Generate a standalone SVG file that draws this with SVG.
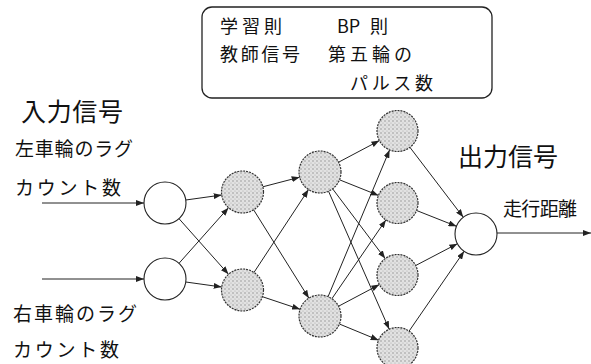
<svg xmlns="http://www.w3.org/2000/svg" width="591" height="364" viewBox="0 0 591 364">
<style>
.t{font-family:"Noto Sans CJK JP","Noto Sans",sans-serif;fill:#111}
.s{font-size:19px}
.m{font-size:18px}
.b{font-size:25px}
.plain{fill:#fff;stroke:#222;stroke-width:1.1}
.hid{fill:url(#dots);stroke:#333;stroke-width:1.2;stroke-dasharray:2 1}
.c line{stroke:#222;stroke-width:1}
.arr{marker-end:url(#ah)}
</style>
<defs>
<pattern id="dots" width="4" height="4" patternUnits="userSpaceOnUse">
<rect width="4" height="4" fill="#e2e2e2"/>
<circle cx="1" cy="1" r="0.7" fill="#888"/>
<circle cx="3" cy="3" r="0.6" fill="#aaa"/>
</pattern>
<marker id="ah" markerWidth="8" markerHeight="6" refX="8" refY="3" orient="auto" markerUnits="userSpaceOnUse">
<path d="M0,0 L8,3 L0,6 Z" fill="#222"/>
</marker>
</defs>
<rect width="591" height="364" fill="#fff"/>

<g id="rulebox">
<rect x="202" y="7" width="290" height="91" rx="10" fill="none" stroke="#222" stroke-width="1.3"/>
<text class="t m" x="220" y="33" textLength="62" lengthAdjust="spacing">学習則</text>
<text class="t m" x="337" y="33">BP</text>
<text class="t m" x="370" y="33">則</text>
<text class="t m" x="220" y="61" textLength="80" lengthAdjust="spacing">教師信号</text>
<text class="t m" x="328" y="61" textLength="84" lengthAdjust="spacing">第五輪の</text>
<text class="t m" x="350" y="90" textLength="83" lengthAdjust="spacing">パルス数</text>
</g>

<g id="labels">
<text class="t b" x="21" y="121" textLength="102" lengthAdjust="spacing">入力信号</text>
<text class="t s" x="15" y="156" textLength="118" lengthAdjust="spacing">左車輪のラグ</text>
<text class="t s" x="15" y="195" textLength="106" lengthAdjust="spacing">カウント数</text>
<text class="t s" x="13" y="321" textLength="124" lengthAdjust="spacing">右車輪のラグ</text>
<text class="t s" x="13" y="357" textLength="106" lengthAdjust="spacing">カウント数</text>
<text class="t b" x="458" y="166" textLength="100" lengthAdjust="spacing">出力信号</text>
<text class="t s" x="503" y="216" textLength="74" lengthAdjust="spacing">走行距離</text>
</g>

<g id="connectors" class="c">
<line class="arr" x1="42" y1="203" x2="144" y2="203"/>
<line class="arr" x1="42" y1="279" x2="144" y2="279"/>
<line class="arr" x1="185.8" y1="200" x2="221.7" y2="195"/>
<line class="arr" x1="179" y1="218.7" x2="228.5" y2="274.3"/>
<line class="arr" x1="179" y1="263.3" x2="228.5" y2="207.7"/>
<line class="arr" x1="185.8" y1="282" x2="221.7" y2="287"/>
<line class="arr" x1="262.8" y1="186.8" x2="299.7" y2="177.2"/>
<line class="arr" x1="253.6" y1="209.8" x2="308.9" y2="298.2"/>
<line class="arr" x1="254" y1="272.4" x2="308.5" y2="189.6"/>
<line class="arr" x1="262.4" y1="296.7" x2="300.1" y2="309.3"/>
<line class="arr" x1="338.6" y1="162.2" x2="379.4" y2="140.6"/>
<line class="arr" x1="339.5" y1="179.8" x2="378.5" y2="195.4"/>
<line class="arr" x1="332.6" y1="188.8" x2="385.2" y2="258.6"/>
<line class="arr" x1="328.5" y1="191.2" x2="389.2" y2="329.2"/>
<line class="arr" x1="328.1" y1="296.6" x2="389.6" y2="149.9"/>
<line class="arr" x1="331.9" y1="298.7" x2="385.9" y2="219.9"/>
<line class="arr" x1="338.6" y1="306.2" x2="379.4" y2="284.6"/>
<line class="arr" x1="339.4" y1="324" x2="378.6" y2="340.2"/>
<line class="arr" x1="409.9" y1="147.3" x2="463.3" y2="217.3"/>
<line class="arr" x1="416.6" y1="210.5" x2="456.5" y2="226.3"/>
<line class="arr" x1="415.7" y1="265.5" x2="457.4" y2="243.7"/>
<line class="arr" x1="409.1" y1="331.1" x2="464.1" y2="251.3"/>
<line class="arr" x1="497" y1="233" x2="591" y2="233"/>
</g>

<g id="in1"><circle class="plain" cx="165" cy="203" r="21"/></g>
<g id="in2"><circle class="plain" cx="165" cy="279" r="21"/></g>
<g id="h1a"><circle class="hid" cx="242.5" cy="192" r="21"/></g>
<g id="h1b"><circle class="hid" cx="242.5" cy="290" r="21"/></g>
<g id="h2a"><circle class="hid" cx="320" cy="172" r="21"/></g>
<g id="h2b"><circle class="hid" cx="320" cy="316" r="21"/></g>
<g id="h3a"><circle class="hid" cx="397.5" cy="131" r="20.5"/></g>
<g id="h3b"><circle class="hid" cx="397.5" cy="203" r="20.5"/></g>
<g id="h3c"><circle class="hid" cx="397.5" cy="275" r="20.5"/></g>
<g id="h3d"><circle class="hid" cx="397.5" cy="348" r="20.5"/></g>
<g id="out"><circle class="plain" cx="476" cy="234" r="21"/></g>
</svg>
